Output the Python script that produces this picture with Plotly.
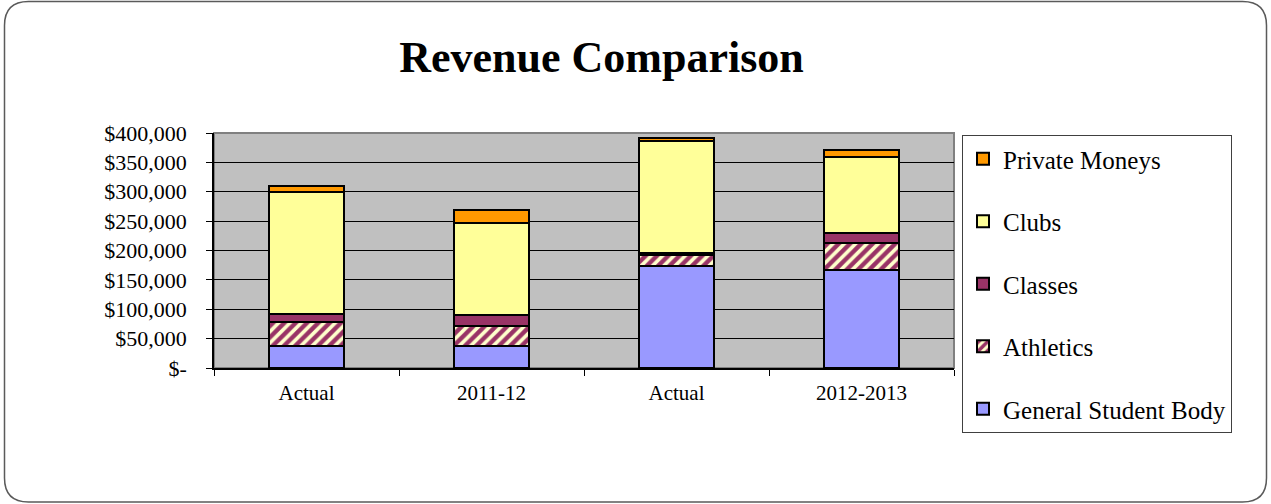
import plotly.graph_objects as go

# Revenue by source for each reporting period
categories = ["Actual", "2011-12", "Actual", "2012-2013"]
general_student_body = [38000, 38000, 173000, 166000]
athletics = [41000, 33500, 20000, 46000]
classes = [13000, 19000, 3500, 17000]
clubs = [207000, 157000, 190500, 130000]
private_moneys = [10000, 21500, 4000, 12500]

y_ticks = [0, 50000, 100000, 150000, 200000, 250000, 300000, 350000, 400000]

W, H = 1271, 504
ML, MR, MT, MB = 214, 317, 133, 136
PW, PH = W - ML - MR, H - MT - MB

FONT = "Liberation Serif"


def money(v):
    return "$-" if v == 0 else "${:,.0f}".format(v)


xpos = list(range(len(categories)))

series = [
    ("General Student Body", general_student_body, "#9999FF", None),
    ("Athletics", athletics, "#FFFFCC", dict(shape="/", fgcolor="#993366", bgcolor="#FFFFCC",
                                             size=8, solidity=0.55, fgopacity=1)),
    ("Classes", classes, "#993366", None),
    ("Clubs", clubs, "#FFFF99", None),
    ("Private Moneys", private_moneys, "#FF9900", None),
]

fig = go.Figure()
n = len(series)
for i, (name, vals, color, pattern) in enumerate(series):
    marker = dict(color=color, line=dict(color="#000000", width=2))
    if pattern:
        marker["pattern"] = pattern
    fig.add_trace(go.Bar(
        x=xpos, y=vals, name=name, marker=marker, width=0.405,
        legendgroup=name, legendrank=n - i,
        hovertemplate="%{y:$,.0f}<extra>" + name + "</extra>",
    ))


def px_x(p):
    return (p - ML) / PW


def px_y(p):
    return (H - MB - p) / PH


def rounded_rect(x0, y0, x1, y1, r):
    # path in paper units built from pixel positions
    pts = [
        f"M {px_x(x0 + r)} {px_y(y0)}",
        f"L {px_x(x1 - r)} {px_y(y0)}",
        f"Q {px_x(x1)} {px_y(y0)} {px_x(x1)} {px_y(y0 + r)}",
        f"L {px_x(x1)} {px_y(y1 - r)}",
        f"Q {px_x(x1)} {px_y(y1)} {px_x(x1 - r)} {px_y(y1)}",
        f"L {px_x(x0 + r)} {px_y(y1)}",
        f"Q {px_x(x0)} {px_y(y1)} {px_x(x0)} {px_y(y1 - r)}",
        f"L {px_x(x0)} {px_y(y0 + r)}",
        f"Q {px_x(x0)} {px_y(y0)} {px_x(x0 + r)} {px_y(y0)}",
        "Z",
    ]
    return " ".join(pts)


shapes = [
    # plot-area frame
    dict(type="rect", xref="paper", yref="paper", x0=0, y0=0, x1=1, y1=1,
         line=dict(color="#808080", width=2), layer="below"),
    # outer rounded frame
    dict(type="path", xref="paper", yref="paper",
         path=rounded_rect(4.5, 1.5, 1266.5, 502, 24),
         line=dict(color="#5a5a5a", width=1.5), layer="above"),
]

fig.update_layout(
    width=W, height=H,
    margin=dict(l=ML, r=MR, t=MT, b=MB, pad=0),
    paper_bgcolor="#FFFFFF",
    plot_bgcolor="#C0C0C0",
    barmode="stack",
    font=dict(family=FONT, size=21, color="#000000"),
    title=dict(text="<b>Revenue Comparison</b>", x=601.5 / W, xref="container", xanchor="center",
               y=(H - 57) / H, yref="container", yanchor="middle",
               font=dict(family=FONT, size=44, color="#000000")),
    showlegend=True,
    legend=dict(
        x=px_x(962), y=px_y(135), xref="paper", yref="paper",
        xanchor="left", yanchor="top",
        traceorder="grouped", tracegroupgap=27,
        bgcolor="#FFFFFF", bordercolor="#404040", borderwidth=1,
        font=dict(family=FONT, size=25, color="#000000"),
        itemwidth=30, maxheight=420,
    ),
    xaxis=dict(
        range=[-0.5, len(categories) - 0.5],
        tickvals=xpos, ticktext=categories,
        ticks="", showgrid=False, zeroline=False,
        showline=True, linecolor="#000000", linewidth=1.5,
        tickfont=dict(family=FONT, size=21),
        ticklabelstandoff=5,
        minor=dict(tickvals=[i - 0.5 for i in range(len(categories) + 1)],
                   ticks="outside", ticklen=6, tickcolor="#000000", tickwidth=1,
                   showgrid=False),
        fixedrange=True,
    ),
    yaxis=dict(
        range=[0, 400000],
        tickvals=y_ticks, ticktext=[money(v) for v in y_ticks],
        ticks="outside", ticklen=6, tickcolor="#000000", tickwidth=1,
        showgrid=True, gridcolor="#000000", gridwidth=1,
        zeroline=False,
        showline=True, linecolor="#000000", linewidth=1.5,
        tickfont=dict(family=FONT, size=22),
        ticklabelstandoff=15,
        fixedrange=True,
    ),
    shapes=shapes,
)

fig.write_html("out.html")
